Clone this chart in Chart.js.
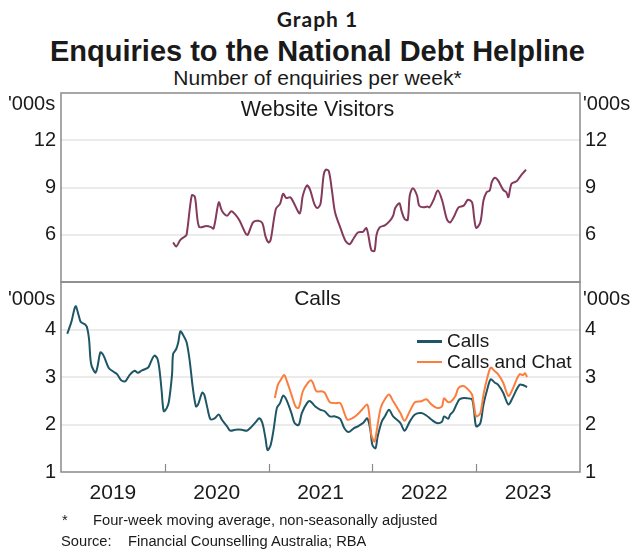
<!DOCTYPE html>
<html>
<head>
<meta charset="utf-8">
<script src="https://cdn.jsdelivr.net/npm/chart.js@4.4.1/dist/chart.umd.min.js"></script>
<style>
  body { margin: 0; width: 635px; height: 549px; background: #fff; position: relative; overflow: hidden;
         font-family: "Liberation Sans", Arial, sans-serif; color: #1a1a1a; }
  .t { position: absolute; white-space: nowrap; line-height: 20px; }
  .c { left: 0; width: 635px; text-align: center; }
  canvas { position: absolute; left: 0; }
  .key { position: absolute; height: 2px; width: 25px; }
</style>
</head>
<body>
<div class="t c" style="top:9px;font-family:Lato,'Open Sans',sans-serif;font-weight:bold;font-size:21px;letter-spacing:1px;">Graph 1</div>
<div class="t c" style="top:41px;font-weight:bold;font-size:29px;">Enquiries to the National Debt Helpline</div>
<div class="t c" style="top:68px;font-size:21px;">Number of enquiries per week*</div>

<canvas id="topCanvas" width="635" height="195" style="top:88px"></canvas>
<canvas id="bottomCanvas" width="635" height="235" style="top:277px"></canvas>

<div class="t" style="top:93px;left:8px;font-size:20px;">'000s</div>
<div class="t" style="top:93px;left:583px;font-size:20px;">'000s</div>
<div class="t" style="top:288px;left:8px;font-size:20px;">'000s</div>
<div class="t" style="top:288px;left:583px;font-size:20px;">'000s</div>
<div class="t c" style="top:99px;font-size:21.5px;">Website Visitors</div>
<div class="t c" style="top:288px;font-size:21px;">Calls</div>

<div class="key" style="left:417px;top:340px;background:#1f5666;height:3px"></div>
<div class="t" style="left:447px;top:331px;font-size:19px;">Calls</div>
<div class="key" style="left:417px;top:361px;background:#fb7e3e"></div>
<div class="t" style="left:447px;top:352px;font-size:19px;">Calls and Chat</div>

<div class="t" style="top:510px;left:62px;font-size:14.7px;">*</div>
<div class="t" style="top:510px;left:93px;font-size:14.7px;">Four-week moving average, non-seasonally adjusted</div>
<div class="t" style="top:531px;left:61px;font-size:14.7px;">Source:</div>
<div class="t" style="top:531px;left:128px;font-size:14.7px;">Financial Counselling Australia; RBA</div>

<script>
// Semaine (année décimale) et valeurs, en milliers
const visitorWeeks = [
  2020.08,2020.11,2020.15,2020.19,2020.21,2020.26,2020.29,2020.33,2020.40,2020.44,
  2020.47,2020.52,2020.55,2020.60,2020.64,2020.68,2020.72,2020.78,2020.80,2020.85,
  2020.90,2020.94,2020.97,2021.00,2021.02,2021.07,2021.11,2021.14,2021.17,2021.21,
  2021.24,2021.30,2021.33,2021.37,2021.40,2021.44,2021.47,2021.50,2021.53,2021.55,
  2021.58,2021.61,2021.64,2021.69,2021.74,2021.78,2021.82,2021.86,2021.91,2021.94,
  2021.96,2021.99,2022.02,2022.04,2022.07,2022.12,2022.17,2022.20,2022.22,2022.26,
  2022.28,2022.31,2022.34,2022.36,2022.39,2022.43,2022.45,2022.49,2022.53,2022.55,
  2022.59,2022.63,2022.67,2022.72,2022.75,2022.79,2022.83,2022.88,2022.92,2022.96,
  2022.98,2023.00,2023.04,2023.07,2023.10,2023.13,2023.15,2023.18,2023.21,2023.26,
  2023.29,2023.31,2023.34,2023.39,2023.42,2023.45,2023.48
];
const visitorValues = [
  5.51,5.25,5.68,5.87,6.00,8.50,8.40,6.50,6.55,6.50,
  6.40,8.06,7.53,7.21,7.49,7.28,6.90,6.06,6.00,6.79,
  6.89,6.74,5.90,5.51,5.68,7.64,7.96,8.60,8.33,8.38,
  8.06,7.36,8.49,9.13,8.85,7.96,7.70,7.96,9.77,10.13,
  10.04,8.81,7.43,6.47,5.62,5.40,5.78,6.14,6.19,6.43,
  6.00,5.02,4.98,6.00,6.47,6.60,6.90,7.21,7.70,8.00,
  7.53,7.00,6.94,8.49,8.96,8.49,7.85,7.74,7.79,7.74,
  8.22,8.81,8.22,6.94,6.79,7.21,7.74,7.85,8.22,8.06,
  7.10,6.43,6.79,8.17,8.70,8.81,9.34,9.62,9.45,8.85,
  8.70,8.38,9.24,9.40,9.66,9.91,10.13
];

const callWeeks = [
  2019.06,2019.10,2019.14,2019.17,2019.19,2019.23,2019.25,2019.27,2019.29,2019.33,
  2019.35,2019.38,2019.41,2019.46,2019.50,2019.54,2019.58,2019.62,2019.64,2019.66,
  2019.71,2019.74,2019.78,2019.84,2019.87,2019.90,2019.93,2019.95,2019.97,2019.99,
  2020.02,2020.04,2020.07,2020.08,2020.11,2020.13,2020.15,2020.18,2020.21,2020.24,
  2020.27,2020.30,2020.32,2020.36,2020.38,2020.41,2020.44,2020.48,2020.52,2020.55,
  2020.60,2020.63,2020.68,2020.74,2020.79,2020.83,2020.88,2020.91,2020.94,2020.97,
  2020.99,2021.02,2021.05,2021.08,2021.11,2021.14,2021.17,2021.22,2021.25,2021.29,
  2021.32,2021.37,2021.40,2021.45,2021.50,2021.54,2021.59,2021.64,2021.69,2021.73,
  2021.77,2021.82,2021.86,2021.91,2021.95,2021.98,2022.00,2022.03,2022.05,2022.09,
  2022.12,2022.16,2022.20,2022.27,2022.31,2022.36,2022.41,2022.47,2022.52,2022.57,
  2022.62,2022.67,2022.69,2022.73,2022.75,2022.78,2022.81,2022.84,2022.88,2022.92,
  2022.96,2022.98,2023.00,2023.04,2023.07,2023.11,2023.14,2023.18,2023.21,2023.26,
  2023.31,2023.35,2023.39,2023.42,2023.45,2023.49
];
const callValues = [
  3.91,4.16,4.49,4.30,4.16,4.11,4.05,3.80,3.28,3.09,
  3.20,3.52,3.45,3.19,3.12,3.06,2.93,2.91,2.97,3.04,
  3.13,3.09,3.14,3.20,3.34,3.45,3.38,3.13,2.70,2.28,
  2.35,2.49,3.06,3.48,3.59,3.73,3.96,3.87,3.73,3.34,
  2.77,2.38,2.42,2.67,2.63,2.35,2.11,2.13,2.21,2.10,
  1.96,1.87,1.89,1.89,1.87,1.94,2.06,2.13,2.03,1.71,
  1.46,1.57,1.92,2.35,2.45,2.61,2.53,2.24,2.03,1.99,
  2.24,2.45,2.49,2.38,2.31,2.28,2.17,2.17,2.12,1.92,
  1.84,1.92,1.96,2.03,2.13,1.89,1.57,1.50,1.74,2.06,
  2.17,2.31,2.17,2.03,1.87,2.06,2.21,2.24,2.19,2.10,
  2.03,2.06,2.17,2.12,2.21,2.28,2.42,2.53,2.56,2.55,
  2.53,2.28,1.96,2.03,2.42,2.77,2.95,2.88,2.84,2.67,
  2.42,2.56,2.74,2.84,2.83,2.79
];

const chatWeeks = [
  2021.06,2021.09,2021.12,2021.15,2021.17,2021.22,2021.26,2021.29,2021.33,2021.38,
  2021.41,2021.43,2021.46,2021.51,2021.54,2021.59,2021.64,2021.69,2021.73,2021.76,
  2021.82,2021.86,2021.90,2021.95,2021.97,2021.99,2022.02,2022.04,2022.08,2022.12,
  2022.16,2022.20,2022.27,2022.31,2022.36,2022.41,2022.47,2022.52,2022.57,2022.62,
  2022.67,2022.69,2022.73,2022.76,2022.80,2022.83,2022.88,2022.92,2022.96,2022.98,
  2023.00,2023.04,2023.07,2023.11,2023.14,2023.17,2023.21,2023.26,2023.31,2023.35,
  2023.39,2023.42,2023.45,2023.47,2023.49
];
const chatValues = [
  2.56,2.84,2.95,3.04,2.95,2.63,2.38,2.35,2.70,2.88,
  2.93,2.86,2.70,2.70,2.67,2.47,2.45,2.45,2.24,2.10,
  2.15,2.22,2.31,2.42,2.21,1.78,1.64,1.85,2.35,2.53,
  2.63,2.49,2.24,2.08,2.28,2.47,2.49,2.53,2.42,2.35,
  2.38,2.55,2.47,2.49,2.60,2.77,2.81,2.74,2.63,2.38,
  2.17,2.24,2.63,3.01,3.20,3.14,3.06,2.88,2.60,2.74,
  2.95,3.06,3.04,3.08,3.00
];

const yearLabels = [2019, 2020, 2021, 2022, 2023];
const topTicks = [6, 9, 12];
const bottomTicks = [1, 2, 3, 4];

Chart.defaults.font.family = '"Liberation Sans", Arial, sans-serif';
Chart.defaults.color = '#1a1a1a';

const toPoints = (xs, ys) => xs.map((x, i) => ({ x: x, y: ys[i] }));

// cadre gris autour de la zone de tracé
const framePlugin = {
  id: 'frame',
  afterDraw(chart) {
    const a = chart.chartArea, ctx = chart.ctx;
    ctx.save();
    ctx.strokeStyle = '#8a8a8a';
    ctx.lineWidth = 1.5;
    ctx.strokeRect(a.left, a.top, a.right - a.left, a.bottom - a.top);
    ctx.restore();
  }
};

// petites graduations vers l'intérieur entre les années
const yearMarks = {
  id: 'yearMarks',
  afterDraw(chart) {
    const x = chart.scales.x, a = chart.chartArea, ctx = chart.ctx;
    ctx.save();
    ctx.strokeStyle = '#8a8a8a';
    ctx.lineWidth = 1.2;
    yearLabels.slice(1).forEach(y => {
      const px = Math.round(x.getPixelForValue(y)) + 0.5;
      ctx.beginPath();
      ctx.moveTo(px, a.bottom);
      ctx.lineTo(px, a.bottom - 8);
      ctx.stroke();
    });
    ctx.restore();
  }
};

function yAxis(min, max, shown, side) {
  return {
    type: 'linear', position: side, min: min, max: max,
    afterBuildTicks: s => { s.ticks = []; for (let v = min; v <= max; v += (max - min) / 4) s.ticks.push({ value: v }); },
    afterFit: s => {
      s.width = side === 'left' ? 61 : 55;
      s.paddingTop = 0;
      s.paddingBottom = 0;
    },
    ticks: { padding: 5, font: { size: 20 }, color: '#1a1a1a',
             callback: v => shown.includes(v) ? String(v) : null },
    grid: { drawTicks: false, lineWidth: 2,
            color: ctx => (ctx.tick && (ctx.tick.value === min || ctx.tick.value === max)) ? 'rgba(0,0,0,0)' : '#ebebeb' },
    border: { display: false }
  };
}

const lineDefaults = { borderWidth: 2, pointRadius: 0, tension: 0.3, fill: false };

new Chart(document.getElementById('topCanvas'), {
  type: 'line',
  data: {
    datasets: [{ ...lineDefaults, label: 'Website Visitors', data: toPoints(visitorWeeks, visitorValues),
                 borderColor: '#843a5c', yAxisID: 'y' }]
  },
  options: {
    responsive: false, animation: false,
    layout: { padding: { top: 5, bottom: 1, left: 0, right: 0 } },
    plugins: { legend: { display: false }, tooltip: { enabled: false } },
    scales: {
      x: { type: 'linear', min: 2019, max: 2024, display: false },
      y: yAxis(3, 15, topTicks, 'left'),
      yR: yAxis(3, 15, topTicks, 'right')
    }
  },
  plugins: [framePlugin]
});

new Chart(document.getElementById('bottomCanvas'), {
  type: 'line',
  data: {
    datasets: [
      { ...lineDefaults, label: 'Calls and Chat', data: toPoints(chatWeeks, chatValues), borderColor: '#fb7e3e', yAxisID: 'y' },
      { ...lineDefaults, label: 'Calls', data: toPoints(callWeeks, callValues), borderColor: '#1f5666', yAxisID: 'y' }
    ]
  },
  options: {
    responsive: false, animation: false,
    layout: { padding: { top: 5, bottom: 0, left: 0, right: 0 } },
    plugins: { legend: { display: false }, tooltip: { enabled: false } },
    scales: {
      x: {
        type: 'linear', min: 2019, max: 2024,
        afterBuildTicks: s => { s.ticks = yearLabels.map(y => ({ value: y + 0.5 })); },
        afterFit: s => { s.height = 40; s.paddingLeft = 0; s.paddingRight = 0; },
        ticks: { autoSkip: false, maxRotation: 0, padding: 9, font: { size: 21 }, color: '#1a1a1a',
                 callback: v => String(Math.floor(v)) },
        grid: { display: false, drawTicks: false },
        border: { display: false }
      },
      y: yAxis(1, 5, bottomTicks, 'left'),
      yR: yAxis(1, 5, bottomTicks, 'right')
    }
  },
  plugins: [framePlugin, yearMarks]
});
</script>
</body>
</html>
